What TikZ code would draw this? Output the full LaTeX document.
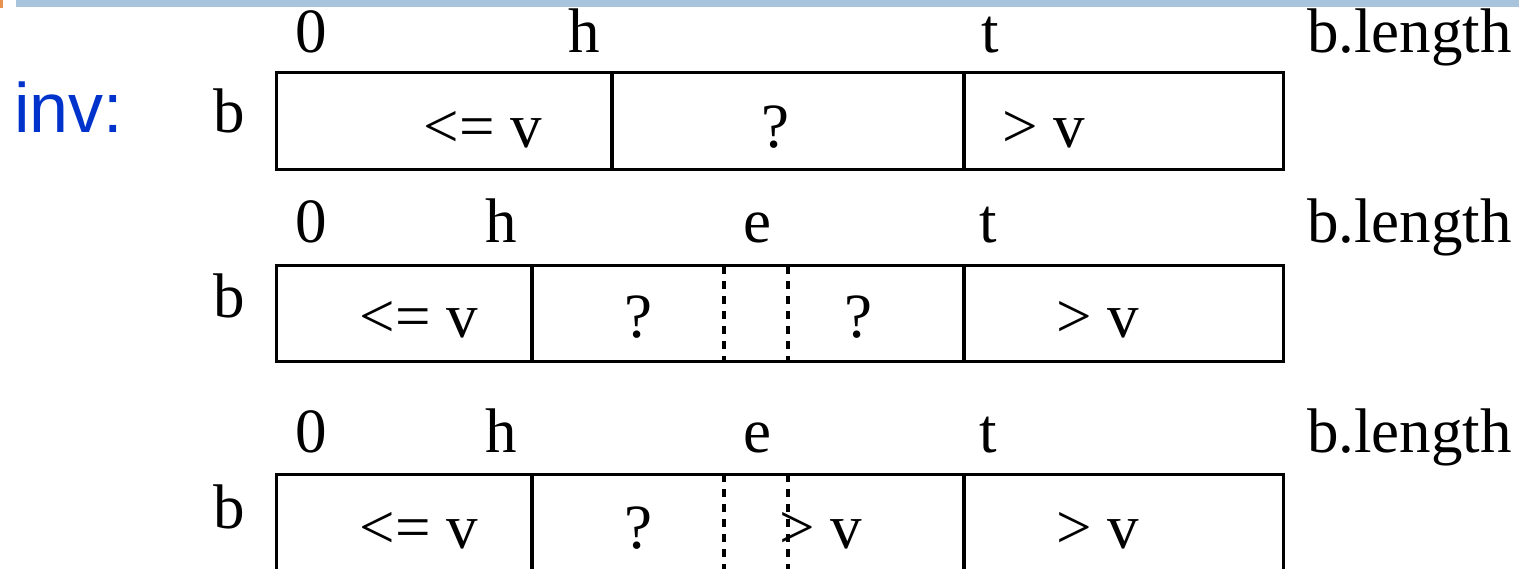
\documentclass[tikz,border=0pt]{standalone}
\usepackage{fontspec}
\setmainfont{Liberation Serif}
\newfontfamily\invfont{Liberation Sans}
\usepackage{xcolor}

\definecolor{invblue}{RGB}{0,51,204}
\definecolor{barblue}{RGB}{167,196,220}
\definecolor{barorange}{RGB}{232,148,80}

\tikzset{
  lbl/.style={anchor=base,inner sep=0pt,font=\fontsize{63}{70}\selectfont},
  frame/.style={line width=3pt},
  wall/.style={line width=4pt},
  dwall/.style={line width=4.2pt,dash pattern=on 8pt off 7pt}
}

\begin{document}
\begin{tikzpicture}[x=1pt,y=-1pt]
            \useasboundingbox (0,0) rectangle (1519,569);
            \clip (0,0) rectangle (1519,569);

            % slide bar
            \fill[barorange] (0,0) rectangle (3,8);
            \fill[barblue] (16,0) rectangle (1519,7);

            \node[anchor=base west,inner sep=0pt,text=invblue,
                  font=\invfont\fontsize{70}{78}\selectfont] (inv) at (14,133) {inv:};

            % row 1
            \node[lbl] (zeroA) at (311,53) {0};
            \node[lbl] (hA) at (584,53) {h};
            \node[lbl] (tA) at (990,53) {t};
            \node[lbl,anchor=base west] (lenA) at (1307,53) {b.length};
            \node[lbl] (bA) at (229,133) {b};
            \draw[frame] (276,73) rectangle (1283,170);
            \draw[wall] (612,73) -- (612,170);
            \draw[wall] (964,73) -- (964,170);
            \node[lbl] (leA) at (483,148) {<= v};
            \node[lbl] (qA) at (775,148) {?};
            \node[lbl] (gtA) at (1044,148) {> v};

            % row 2
            \node[lbl] (zeroB) at (311,243) {0};
            \node[lbl] (hB) at (501,243) {h};
            \node[lbl] (eB) at (757,243) {e};
            \node[lbl] (tB) at (988,243) {t};
            \node[lbl,anchor=base west] (lenB) at (1307,243) {b.length};
            \node[lbl] (bB) at (229,318) {b};
            \draw[frame] (276,266) rectangle (1283,362);
            \draw[wall] (532,266) -- (532,362);
            \draw[dwall] (724,266) -- (724,362);
            \draw[dwall] (788,266) -- (788,362);
            \draw[wall] (964,266) -- (964,362);
            \node[lbl] (leB) at (419,338) {<= v};
            \node[lbl] (qB) at (638,338) {?};
            \node[lbl] (qBB) at (858,338) {?};
            \node[lbl] (gtB) at (1098,338) {> v};

            % row 3
            \node[lbl] (zeroC) at (311,453) {0};
            \node[lbl] (hC) at (501,453) {h};
            \node[lbl] (eC) at (757,453) {e};
            \node[lbl] (tC) at (988,453) {t};
            \node[lbl,anchor=base west] (lenC) at (1307,453) {b.length};
            \node[lbl] (bC) at (229,528) {b};
            \draw[frame] (276,474) rectangle (1283,572);
            \draw[wall] (532,474) -- (532,572);
            \draw[dwall] (724,474) -- (724,572);
            \draw[dwall] (788,474) -- (788,572);
            \draw[wall] (964,474) -- (964,572);
            \node[lbl] (leC) at (419,548) {<= v};
            \node[lbl] (qC) at (638,548) {?};
            \node[lbl] (gtC) at (821,548) {> v};
            \node[lbl] (gtCC) at (1098,548) {> v};
        \end{tikzpicture}
\end{document}
